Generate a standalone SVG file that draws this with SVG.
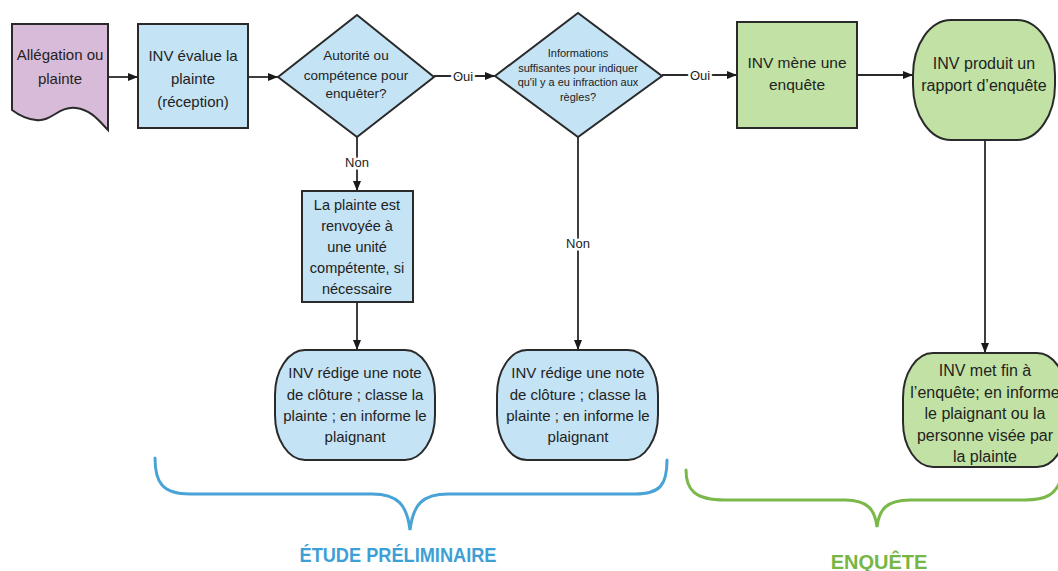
<svg xmlns="http://www.w3.org/2000/svg" width="1058" height="571" viewBox="0 0 1058 571">
<defs>
<marker id="arr" markerUnits="userSpaceOnUse" markerWidth="11" markerHeight="9" refX="10" refY="4" orient="auto">
<path d="M0,0 L10,4 L0,8 Z" fill="#1a1a1a"/>
</marker>
<style>
.shape{stroke:#2a2a2a;stroke-width:2}
.blue{fill:#c4e3f5}
.green{fill:#c1e2a4}
.purple{fill:#d8bbd8}
text{font-family:"Liberation Sans",Arial,sans-serif;fill:#222;text-anchor:middle}
.t15{font-size:15px}
.t16{font-size:16px}
.t135{font-size:13.5px}
.t11{font-size:11px}
.lbl{font-size:13px;paint-order:stroke;stroke:#fff;stroke-width:5px}
.conn{stroke:#2a2a2a;stroke-width:1.8;fill:none}
.brace{fill:none;stroke-width:3;stroke-linecap:round}
.h{font-size:20px;font-weight:bold}
</style>
</defs>
<rect width="1058" height="571" fill="#fff"/>

<g id="connectors">
<path class="conn" d="M108,77 H138" marker-end="url(#arr)"/>
<path class="conn" d="M248,77 H278" marker-end="url(#arr)"/>
<path class="conn" d="M434,76 H495" marker-end="url(#arr)"/>
<path class="conn" d="M662,75 H737" marker-end="url(#arr)"/>
<path class="conn" d="M857,75 H913" marker-end="url(#arr)"/>
<path class="conn" d="M357,137 V191" marker-end="url(#arr)"/>
<path class="conn" d="M357,302 V350" marker-end="url(#arr)"/>
<path class="conn" d="M578,137 V350" marker-end="url(#arr)"/>
<path class="conn" d="M985,140 V353" marker-end="url(#arr)"/>
<text class="lbl" x="463" y="80.5">Oui</text>
<text class="lbl" x="700" y="79.5">Oui</text>
<text class="lbl" x="357" y="167">Non</text>
<text class="lbl" x="578" y="248">Non</text>
</g>

<g id="n-allegation">
<path class="shape purple" d="M12,24 H108 V130 C100,122 92,110 76,108 C58,106 52,122 36,120 C24,119 16,113 12,110 Z"/>
<text class="t15" x="60" y="60">Allégation ou</text>
<text class="t15" x="60" y="84">plainte</text>
</g>

<g id="n-evalue">
<rect class="shape blue" x="138" y="24" width="110" height="104"/>
<text class="t15" x="193" y="61">INV évalue la</text>
<text class="t15" x="193" y="84">plainte</text>
<text class="t15" x="193" y="107">(réception)</text>
</g>

<g id="n-autorite">
<polygon class="shape blue" points="278,77 357,15 434,77 357,137"/>
<text class="t135" x="356" y="60">Autorité ou</text>
<text class="t135" x="356" y="80">compétence pour</text>
<text class="t135" x="356" y="98">enquêter?</text>
</g>

<g id="n-informations">
<polygon class="shape blue" points="495,76 578,13 662,76 578,137"/>
<text class="t11" x="578" y="57">Informations</text>
<text class="t11" x="578" y="71.5">suffisantes pour indiquer</text>
<text class="t11" x="578" y="86">qu'il y a eu infraction aux</text>
<text class="t11" x="578" y="101">règles?</text>
</g>

<g id="n-mene">
<rect class="shape green" x="737" y="22" width="120" height="106"/>
<text class="t15" x="797" y="68" style="font-size:15.5px">INV mène une</text>
<text class="t15" x="797" y="90" style="font-size:15.5px">enquête</text>
</g>

<g id="n-rapport">
<rect class="shape green" x="913" y="20" width="142" height="120" rx="38" ry="55"/>
<text class="t16" x="984" y="69">INV produit un</text>
<text class="t16" x="984" y="91">rapport d’enquête</text>
</g>

<g id="n-renvoyee">
<rect class="shape blue" x="302" y="191" width="111" height="111"/>
<text class="t15" x="357" y="210" style="font-size:14.5px">La plainte est</text>
<text class="t15" x="357" y="231" style="font-size:14.5px">renvoyée à</text>
<text class="t15" x="357" y="252" style="font-size:14.5px">une unité</text>
<text class="t15" x="357" y="273" style="font-size:14.5px">compétente, si</text>
<text class="t15" x="357" y="294" style="font-size:14.5px">nécessaire</text>
</g>

<g id="n-cloture1">
<rect class="shape blue" x="275" y="350" width="160" height="110" rx="30" ry="45"/>
<text class="t15" x="355" y="378">INV rédige une note</text>
<text class="t15" x="355" y="400">de clôture ; classe la</text>
<text class="t15" x="355" y="421">plainte ; en informe le</text>
<text class="t15" x="355" y="442">plaignant</text>
</g>

<g id="n-cloture2">
<rect class="shape blue" x="497" y="350" width="161" height="110" rx="30" ry="45"/>
<text class="t15" x="578" y="378">INV rédige une note</text>
<text class="t15" x="578" y="400">de clôture ; classe la</text>
<text class="t15" x="578" y="421">plainte ; en informe le</text>
<text class="t15" x="578" y="442">plaignant</text>
</g>

<g id="n-fin">
<rect class="shape green" x="903" y="353" width="164" height="114" rx="30" ry="45"/>
<text class="t16" x="985" y="376">INV met fin à</text>
<text class="t16" x="985" y="397.5">l’enquête; en informe</text>
<text class="t16" x="985" y="419">le plaignant ou la</text>
<text class="t16" x="985" y="440.5">personne visée par</text>
<text class="t16" x="985" y="462">la plainte</text>
</g>

<g id="phase-etude">
<path class="brace" stroke="#4aa3d6" d="M155,458 C155,482 162,494 190,494 L372,494 C398,494 407,505 410,530 C413,505 422,494 448,494 L635,494 C660,494 667,485 667,460"/>
<text class="h" x="398" y="562" fill="#3e9fd6" style="fill:#3e9fd6" textLength="197" lengthAdjust="spacingAndGlyphs">ÉTUDE PRÉLIMINAIRE</text>
</g>

<g id="phase-enquete">
<path class="brace" stroke="#7ab84a" d="M686,470 C686,490 695,500 725,500 L845,500 C868,500 875,510 877,527 C879,510 886,500 910,500 L1025,500 C1048,500 1055,493 1060,482"/>
<text class="h" x="879" y="569" style="fill:#77b545">ENQUÊTE</text>
</g>
</svg>
